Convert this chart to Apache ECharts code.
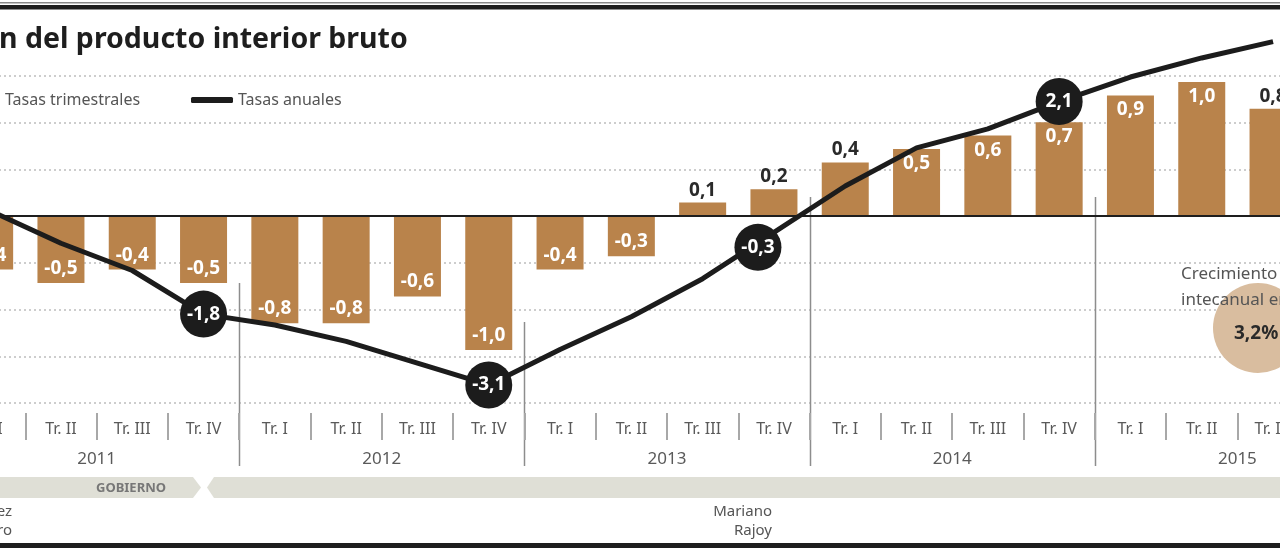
<!DOCTYPE html>
<html>
<head>
<meta charset="utf-8">
<script src="https://cdn.jsdelivr.net/npm/echarts@6/dist/echarts.min.js"></script>
<style>
html,body{margin:0;padding:0;background:#fff;width:1280px;height:548px;overflow:hidden}
#c{width:1426px;height:548px;margin-left:-46px}
</style>
</head>
<body>
<div id="c"></div>
<script>
// ---- data ----
const years = ['2011', '2012', '2013', '2014', '2015'];
const quarterLabels = ['Tr. I', 'Tr. II', 'Tr. III', 'Tr. IV'];
const quarterly = [-0.4, -0.5, -0.4, -0.5, -0.8, -0.8, -0.6, -1.0, -0.4, -0.3, 0.1, 0.2, 0.4, 0.5, 0.6, 0.7, 0.9, 1.0, 0.8, null];
const annual = [0.1, -0.5, -1.0, -1.8, -2.0, -2.3, -2.7, -3.1, -2.45, -1.85, -1.15, -0.3, 0.55, 1.25, 1.6, 2.1, 2.55, 2.9, 3.2, null];
const circledAnnual = [3, 7, 11, 15];           // points shown with a round label
const darkAboveBars = [10, 11, 12, 18];          // bars whose label sits above in dark
const seriesNames = ['Tasas trimestrales', 'Tasas anuales'];

const categories = [];
years.forEach(y => quarterLabels.forEach(q => categories.push(y + '|' + q)));

const OX = 46; // canvas is shifted left by this many pixels (the chart is cropped at both sides)
const FONT = 'Noto Sans';
const BAR = '#b9834b';
const fmt = v => v.toFixed(1).replace('.', ',');

const chart = echarts.init(document.getElementById('c'), null, { renderer: 'canvas' });

const barData = quarterly.map((v, i) => {
  if (v == null) return null;
  const dark = darkAboveBars.indexOf(i) >= 0;
  return {
    value: v,
    label: dark
      ? { position: 'top', color: '#2a2a2a', distance: 3 }
      : { position: v < 0 ? 'insideBottom' : 'insideTop', color: '#fff', distance: 5 }
  };
});

const lineData = annual.map((v, i) => {
  if (v == null) return null;
  const item = { value: v };
  if (circledAnnual.indexOf(i) >= 0) {
    item.label = { show: true };
    if (i === 11) item.symbolOffset = [-16, 15];
  }
  return item;
});

const option = {
  animation: false,
  backgroundColor: '#fff',
  textStyle: { fontFamily: FONT },
  title: {
    text: 'n del producto interior bruto',
    left: OX - 1, top: 25, padding: 0,
    textStyle: { fontFamily: FONT, fontSize: 28.5, fontWeight: 'bold', color: '#1e1e1e' }
  },
  legend: [
    {
      data: [seriesNames[0]], left: OX - 25, top: 92, padding: 0, itemWidth: 25, itemHeight: 16,
      textStyle: { fontFamily: FONT, fontSize: 16, color: '#555' }
    },
    {
      data: [{ name: seriesNames[1], icon: 'roundRect' }], left: OX + 191, top: 92, padding: 0, itemWidth: 42, itemHeight: 6,
      textStyle: { fontFamily: FONT, fontSize: 16, color: '#555' }
    }
  ],
  grid: { left: 0, right: 0, top: 76, bottom: 145, containLabel: false },
  xAxis: [
    {
      type: 'category', data: categories, position: 'bottom', offset: 10,
      axisLine: { show: false, onZero: false },
      axisTick: { show: true, length: 27, interval: 0, lineStyle: { color: '#a8a8a8', width: 2 } },
      axisLabel: {
        interval: 0, margin: 8, color: '#5a5a5a', fontFamily: FONT, fontSize: 16,
        formatter: v => v.split('|')[1]
      }
    },
    {
      type: 'category', data: years, position: 'bottom', offset: 43,
      axisLine: { show: false, onZero: false }, axisTick: { show: false },
      axisLabel: { interval: 0, margin: 5, color: '#5a5a5a', fontFamily: FONT, fontSize: 17 }
    }
  ],
  yAxis: [
    { type: 'value', min: -187 / 134, max: 140 / 134, show: false, splitLine: { show: false } },
    { type: 'value', min: -187 / 54.5, max: 140 / 54.5, show: false, splitLine: { show: false } },
    {
      type: 'value', min: -4, max: 3, interval: 1, position: 'left',
      axisLine: { show: false }, axisTick: { show: false }, axisLabel: { show: false },
      splitLine: { show: true, lineStyle: { color: '#bdbdbd', type: [2, 3], width: 1.5 } }
    }
  ],
  series: [
    {
      name: seriesNames[0], type: 'bar', xAxisIndex: 0, yAxisIndex: 0,
      data: barData, barWidth: 47, itemStyle: { color: BAR },
      label: {
        show: true, fontFamily: FONT, fontSize: 19, fontWeight: 'bold',
        formatter: p => fmt(p.value)
      },
      markLine: {
        silent: true, symbol: 'none', label: { show: false },
        lineStyle: { color: '#1e1e1e', type: 'solid', width: 2 },
        data: [{ yAxis: 0 }]
      },
      z: 2
    },
    {
      name: seriesNames[1], type: 'line', xAxisIndex: 0, yAxisIndex: 1,
      data: lineData, clip: false, smooth: false,
      symbol: 'circle',
      symbolSize: (v, p) => circledAnnual.indexOf(p.dataIndex) >= 0 ? 47 : 0,
      lineStyle: { color: '#1c1c1c', width: 5 },
      itemStyle: { color: '#1c1c1c' },
      label: {
        show: false, position: 'inside', color: '#fff', fontFamily: FONT, fontSize: 19, fontWeight: 'bold',
        formatter: p => fmt(p.value)
      },
      z: 5
    }
  ]
};

chart.setOption(option);

// decorative elements; year separators placed from the category axis
const bound = k => (chart.convertToPixel({ xAxisIndex: 0 }, categories[k - 1]) + chart.convertToPixel({ xAxisIndex: 0 }, categories[k])) / 2;
const sepTops = [283, 322, 197, 197];
const txt = (x, y, text, font, fill, align, z) => ({
  type: 'text', x: x + OX, y: y, z: z || 1, silent: true,
  style: { text: text, fill: fill, font: font, textAlign: align || 'left', textVerticalAlign: 'middle' }
});
const graphics = [
  { type: 'rect', shape: { x: 0, y: 2, width: 1280 + 2 * OX, height: 1.5 }, style: { fill: '#8a8a8a' }, silent: true },
  { type: 'rect', shape: { x: 0, y: 5, width: 1280 + 2 * OX, height: 4.5 }, style: { fill: '#1e1e1e' }, silent: true },
  { type: 'rect', shape: { x: 0, y: 543, width: 1280 + 2 * OX, height: 5 }, style: { fill: '#1e1e1e' }, silent: true },
  { type: 'polygon', shape: { points: [[0, 477], [193 + OX, 477], [201 + OX, 487.5], [193 + OX, 498], [0, 498]] }, style: { fill: '#dfdfd6' }, silent: true },
  { type: 'polygon', shape: { points: [[214 + OX, 477], [1300 + OX, 477], [1300 + OX, 498], [214 + OX, 498], [207 + OX, 487.5]] }, style: { fill: '#dfdfd6' }, silent: true },
  txt(131, 488, 'GOBIERNO', 'bold 13px "Noto Sans"', '#777', 'center'),
  txt(12, 512, 'ez', '15px "Noto Sans"', '#555', 'right'),
  txt(12, 531, 'ro', '15px "Noto Sans"', '#555', 'right'),
  txt(772, 512, 'Mariano', '15px "Noto Sans"', '#555', 'right'),
  txt(772, 531, 'Rajoy', '15px "Noto Sans"', '#555', 'right'),
  { type: 'circle', shape: { cx: 1258 + OX, cy: 328, r: 45 }, style: { fill: '#d9bd9f' }, silent: true, z: 1 },
  txt(1181, 274, 'Crecimiento', '17px "Noto Sans"', '#555', 'left', 2),
  txt(1181, 300, 'intecanual en', '17px "Noto Sans"', '#555', 'left', 2),
  txt(1234, 334, '3,2%', 'bold 19px "Noto Sans"', '#2a2a2a', 'left', 2)
];
for (let k = 1; k < years.length; k++) {
  const x = Math.round(bound(4 * k)) + 0.5;
  graphics.push({ type: 'line', shape: { x1: x, y1: sepTops[k - 1], x2: x, y2: 466 }, style: { stroke: '#8d8d8d', lineWidth: 1.5 }, silent: true });
}
chart.setOption({ graphic: graphics });
</script>
</body>
</html>
